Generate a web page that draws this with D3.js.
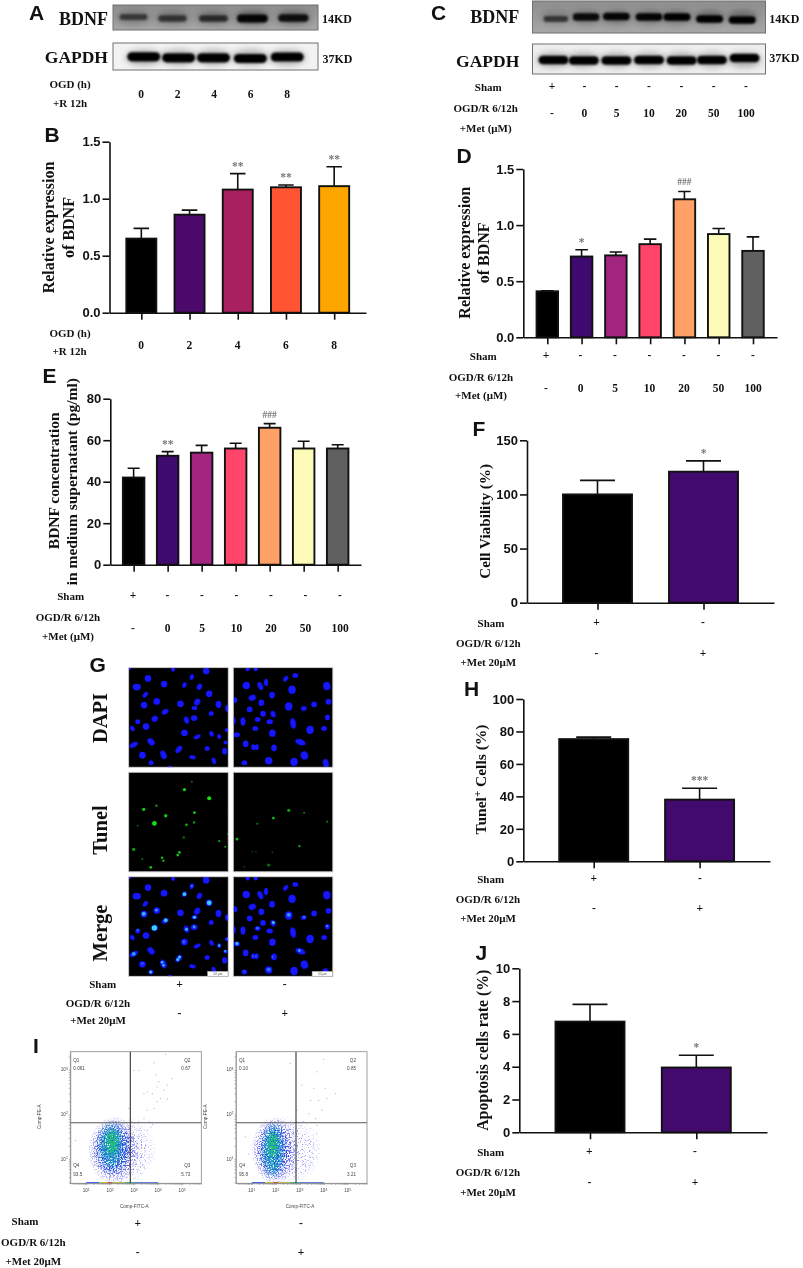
<!DOCTYPE html>
<html>
<head>
<meta charset="utf-8">
<script src="https://cdn.jsdelivr.net/npm/d3@7/dist/d3.min.js"></script>
<style>
body { margin: 0; background: #fff; }
svg { display: block; filter: blur(0.25px); }
text { fill: #111; }
.serif { font-family: "Liberation Serif", serif; font-weight: bold; }
.sans { font-family: "Liberation Sans", Arial, sans-serif; font-weight: bold; }
</style>
</head>
<body>
<div id="fig"></div>
<script>
// bar values
const ogdGroups = ["0", "2", "4", "6", "8"];
const metGroups = ["-", "0", "5", "10", "20", "50", "100"];

const valuesB = [0.65, 0.86, 1.08, 1.10, 1.11];
const errorsB = [0.74, 0.90, 1.22, 1.12, 1.28];
const marksB = ["", "", "**", "**", "**"];
const colorsB = ["#000000", "#4b0a6b", "#a8205f", "#ff5533", "#ffa500"];

const valuesD = [0.41, 0.72, 0.73, 0.83, 1.23, 0.92, 0.77];
const errorsD = [0.415, 0.78, 0.76, 0.875, 1.30, 0.97, 0.895];
const marksD = ["", "*", "", "", "###", "", ""];
const valuesE = [42, 52.5, 54, 56, 66, 56, 56];
const errorsE = [46.5, 54.5, 57.5, 58.5, 68, 59.5, 57.8];
const marksE = ["", "**", "", "", "###", "", ""];
const colorsMet = ["#000000", "#3f0a70", "#a2257f", "#ff4569", "#ffa066", "#fcfcb8", "#606060"];

const valuesF = [100, 121];
const errorsF = [113, 131];
const marksF = ["", "*"];
const valuesH = [75.3, 38];
const errorsH = [76.5, 45];
const marksH = ["", "***"];
const valuesJ = [6.75, 3.95];
const errorsJ = [7.8, 4.7];
const marksJ = ["", "*"];
const colorsPair = ["#000000", "#430a6e"];

const ticksOne = [0, 0.5, 1, 1.5];
const ticksE = [0, 20, 40, 60, 80];
const ticksF = [0, 50, 100, 150];
const ticksH = [0, 20, 40, 60, 80, 100];
const ticksJ = [0, 2, 4, 6, 8, 10];

const shamRowMet = ["+", "-", "-", "-", "-", "-", "-"];
const shamRowPair = ["+", "-"];
const metRowPair = ["-", "+"];

// western blot band strength per lane, and lane centres in box units (0-100)
const blotALanes = [10, 29, 49, 68, 88];
const blotABdnf = [0.5, 0.55, 0.62, 0.95, 0.85];
const blotAGapdhLanes = [15, 32, 49, 67, 85];
const blotAGapdh = [1, 1, 1, 1, 1];
const blotCLanes = [10, 23, 36, 50, 62, 76, 90];
const blotCBdnf = [0.55, 0.9, 0.95, 0.95, 1, 1, 1];
const blotCGapdhLanes = [9, 22, 36, 50, 64, 77, 91];
const blotCGapdh = [1, 1, 1, 1, 1, 1, 1];

// nuclei in the micrographs, field units 0-298: x, y, optional rx, ry, angle
const dapiLeft = [[58,32],[24,58,10,8,0],[106,49],[189,28,5,7,20],[232,10],[167,52,5,7,20],[212,57,6,8,30],[50,81,5,8,40],[241,78],[84,101],[46,112],[155,108],[205,103,7,9,30],[269,110,7,9,0],[197,121,7,5,0],[109,132,9,6,-30],[295,122,5,8,0],[247,137,6,6,0],[78,153,8,7,-30],[27,162,6,6,0],[173,157,6,9,-20],[196,151,8,7,0],[52,176],[11,182,5,7,-30],[167,195,8,8,0],[205,207,9,5,-25],[248,198,5,7,-30],[271,206,5,6,0],[294,187,5,5,0],[15,231,11,6,-30],[67,222,10,7,45],[290,224,5,5,0],[150,245,6,10,40],[235,242,6,6,0],[287,250,6,8,0],[41,262,8,8,0],[104,261,7,11,-25],[191,268,8,5,10],[67,285,6,6,0],[255,279,5,8,-20],[133,6,5,5,0],[124,298,5,4,0],[3,3,3,3,0]];
const dapiRight = [[43,5,5,5,0],[67,5,5,5,0],[157,33,5,8,40],[186,23,7,6,0],[39,53,9,9,0],[81,55,6,10,-25],[98,44,5,9,0],[280,55,9,10,-10],[176,66,9,10,0],[57,90,9,7,-20],[116,82,7,8,0],[6,97,5,7,0],[285,102,7,7,0],[84,105,7,8,0],[242,110,7,7,0],[166,116,9,10,0],[211,122,7,6,-10],[49,125,7,7,0],[89,138,7,7,0],[119,139,6,8,-20],[73,155,7,6,0],[282,149,6,7,0],[29,161,6,10,0],[109,162,8,6,0],[2,159,4,9,0],[179,167,7,13,-10],[230,186,9,10,0],[272,182,7,6,0],[66,182,7,6,0],[117,196,8,9,0],[10,201,8,6,0],[201,223,13,7,20],[37,228,7,8,0],[60,238,5,7,0],[70,238,5,7,0],[122,240,7,8,0],[213,263,9,10,-20],[106,279,9,9,0],[182,282,9,10,0],[277,286,7,10,-15],[33,285,7,6,0]];
// TUNEL spots: x, y, strength, radius
const tunelLeft = [[189,28,0.5,3],[167,52,0.9,5],[241,78,1,6],[45,111,0.9,5],[83,100,0.7,3.5],[197,121,0.9,4],[111,130,0.9,5],[77,153,1,7],[173,157,0.8,4],[196,150,0.7,3.5],[27,160,0.4,3],[165,195,0.4,4],[271,206,0.7,3.5],[289,223,0.7,3],[15,231,0.7,5],[152,240,0.9,4],[147,248,0.9,4],[41,260,0.5,3],[100,256,0.9,3.5],[104,265,0.8,3.5],[66,285,0.9,4],[299,121,0.6,3],[297,185,0.5,3]];
const tunelRight = [[166,114,0.7,5],[212,121,0.6,3],[120,137,0.9,4],[72,154,0.6,3],[281,148,0.6,3],[11,200,0.8,4.5],[198,221,0.8,3.5],[58,238,0.35,2.5],[68,238,0.35,2.5],[117,240,0.4,2.5],[106,278,0.5,5],[33,283,0.3,3]];

// flow cytometry: log10 of FITC and PE for the sparse events outside the main cloud
const flowSparseLeft = [[2.97,3],[3.18,3],[3.53,2.52],[3.88,2.9],[4.01,2.75],[4.57,2.82],[4.36,2.67],[3.94,2.63],[4.22,2.56],[3.39,2.48],[3.74,2.48],[4.08,2.37],[3.94,2.3],[4.36,2.36],[3.81,2.15],[3.53,2.11],[3.39,1.92],[3.18,1.85],[2.76,2.15],[4.29,3.36],[3.81,3.17],[3.6,1.85],[3.74,1.79],[3.25,1.43],[3.39,1.51],[3.11,1.28],[3.32,1.13],[3.53,1.66],[3.18,1.66],[3.04,0.99],[3.39,0.84],[3.25,0.69],[3.67,1.73],[3.11,1.51],[3.46,1.32],[0.54,1.43]];
const flowSparseRight = [[3.97,3.25],[3.69,2.97],[4.04,2.6],[4.46,2.48],[3.42,2.33],[3.76,2.33],[4.11,2.37],[3.9,2.11],[3.63,1.92],[3.35,2.03],[2.86,2.11],[2.58,3.16],[3.07,2.67],[3.56,2.6],[3.69,1.77],[3.14,1.85],[3.28,1.43],[3.56,1.28],[3.07,1.51],[3.42,1.06],[3,1.21],[3.69,1.58],[3.21,0.76],[0.71,1.51],[0.85,1.13]];
// density layers of the main cloud: log x, log y, radius x, radius y, colour
const flowCloudLeft = [[2.6,1.2,1.3,0.75,"#8a8aff"],[2.15,1.2,1.05,0.74,"#3030e0"],[2.1,1.25,0.75,0.62,"#1070d0"],[2.05,1.3,0.5,0.5,"#10a8b8"],[2.07,1.38,0.28,0.3,"#22c070"]];
const flowCloudRight = [[2.5,1.2,1.4,0.75,"#8a8aff"],[1.95,1.2,0.95,0.74,"#3030e0"],[1.9,1.2,0.62,0.66,"#1070d0"],[1.88,1.2,0.42,0.58,"#10a8b8"],[1.88,1.33,0.24,0.32,"#22c070"]];
const flowStrip = [[1,1.55,"#3050ff"],[1.55,1.9,"#c0c020"],[1.9,2.1,"#e03020"],[2.1,2.6,"#b0c030"],[2.6,3,"#30b080"],[3,4,"#5070e0"]];
const flowQuadLeft = ["0.061", "0.67", "5.73", "93.5"];
const flowQuadRight = ["0.10", "0.85", "3.21", "95.8"];
const flowDecades = [1, 2, 3, 4, 5];
const flowDecadesY = [1, 2, 3];

var svg = d3.select("#fig").append("svg").attr("width", 803).attr("height", 1268);
var defs = svg.append("defs");

function addBlur(id, dev) {
    defs.append("filter").attr("id", id)
        .attr("x", "-50%").attr("y", "-80%").attr("width", "200%").attr("height", "260%")
        .append("feGaussianBlur").attr("stdDeviation", dev);
}
addBlur("blur04", 0.45);
addBlur("blur1", 1.1);
addBlur("blur3", 3);

// grainy texture so the flow cloud looks like single events
function addSpeck(id, cut, seed) {
    var speck = defs.append("filter").attr("id", id)
        .attr("x", "-10%").attr("y", "-10%").attr("width", "120%").attr("height", "120%");
    speck.append("feTurbulence").attr("type", "fractalNoise").attr("baseFrequency", 0.75)
        .attr("numOctaves", 1).attr("seed", seed).attr("result", "n");
    speck.append("feColorMatrix").attr("in", "n").attr("type", "matrix")
        .attr("values", "0 0 0 0 0  0 0 0 0 0  0 0 0 0 0  9 0 0 0 " + (-9 * cut)).attr("result", "t");
    speck.append("feComposite").attr("in", "SourceGraphic").attr("in2", "t").attr("operator", "in").attr("result", "c");
    speck.append("feGaussianBlur").attr("in", "c").attr("stdDeviation", 0.35);
}
addSpeck("speck0", 0.56, 4);
addSpeck("speck1", 0.49, 9);
addSpeck("speck2", 0.46, 15);
addSpeck("speck3", 0.44, 21);
addSpeck("speck4", 0.40, 27);

function addFade(id, color) {
    var g = defs.append("radialGradient").attr("id", id);
    g.append("stop").attr("offset", "0%").attr("stop-color", color).attr("stop-opacity", 1);
    g.append("stop").attr("offset", "60%").attr("stop-color", color).attr("stop-opacity", 0.9);
    g.append("stop").attr("offset", "100%").attr("stop-color", color).attr("stop-opacity", 0.1);
}

var blotBg = defs.append("linearGradient").attr("id", "blotBg").attr("x2", 0).attr("y2", 1);
blotBg.append("stop").attr("offset", "0%").attr("stop-color", "#8e8e8e");
blotBg.append("stop").attr("offset", "100%").attr("stop-color", "#a6a6a6");

function label(x, y, str, size, cls, anchor) {
    return svg.append("text").attr("class", cls || "serif")
        .attr("x", x).attr("y", y)
        .attr("font-size", size || 11)
        .attr("text-anchor", anchor || "middle")
        .text(str);
}

function vlabel(x, y, str, size) {
    return svg.append("text").attr("class", "serif")
        .attr("transform", "translate(" + x + "," + y + ") rotate(-90)")
        .attr("font-size", size)
        .attr("text-anchor", "middle")
        .text(str);
}

function row(scale, items, y) {
    items.forEach(function (d, i) {
        label(scale(i), y, d, 11.5);
    });
}

function barChart(p) {
    var x = d3.scalePoint().domain(d3.range(p.values.length)).range([p.left, p.right]).padding(p.pad);
    var y = d3.scaleLinear().domain([0, p.max]).range([p.bottom, p.top]);
    var g = svg.append("g");

    g.selectAll(".err").data(p.errors).enter().append("path")
        .attr("fill", "none").attr("stroke", "#111").attr("stroke-width", 1.6)
        .attr("d", function (d, i) {
            var cx = x(i);
            return "M" + cx + "," + y(p.values[i]) + "V" + y(d) + "M" + (cx - p.cap / 2) + "," + y(d) + "H" + (cx + p.cap / 2);
        });

    g.selectAll(".bar").data(p.values).enter().append("rect")
        .attr("x", function (d, i) { return x(i) - p.barWidth / 2; })
        .attr("y", function (d) { return y(d); })
        .attr("width", p.barWidth)
        .attr("height", function (d) { return p.bottom - y(d); })
        .attr("fill", function (d, i) { return p.colors[i]; })
        .attr("stroke", "#111").attr("stroke-width", 1.9);

    g.selectAll(".sig").data(p.marks).enter().append("text")
        .attr("class", "serif")
        .attr("x", function (d, i) { return x(i); })
        .attr("y", function (d, i) { return y(p.errors[i]) - (d.charAt(0) == "#" ? 6 : 4); })
        .attr("font-size", function (d) { return d.charAt(0) == "#" ? 9.5 : 11.5; })
        .attr("text-anchor", "middle")
        .style("fill", "#777")
        .text(function (d) { return d; });

    var ax = g.append("g").attr("transform", "translate(0," + p.bottom + ")")
        .call(d3.axisBottom(x).tickSize(7).tickSizeOuter(0).tickFormat(""));
    var ay = g.append("g").attr("transform", "translate(" + p.left + ",0)")
        .call(d3.axisLeft(y).tickValues(p.ticks).tickSize(7).tickSizeOuter(0).tickPadding(2)
            .tickFormat(p.format || d3.format("d")));
    [ax, ay].forEach(function (a) {
        a.selectAll("path,line").attr("stroke", "#111").attr("stroke-width", 1.6);
    });
    ay.selectAll("text").attr("class", "sans").attr("font-size", 13).style("fill", "#111");
}

function blot(box, lanes, strength, opt) {
    var x = d3.scaleLinear().domain([0, 100]).range([box.x, box.x + box.w]);
    var clip = "c" + box.x + "_" + box.y;
    defs.append("clipPath").attr("id", clip).append("rect")
        .attr("x", box.x).attr("y", box.y).attr("width", box.w).attr("height", box.h);
    var g = svg.append("g").attr("clip-path", "url(#" + clip + ")");
    g.append("rect").attr("x", box.x).attr("y", box.y).attr("width", box.w).attr("height", box.h)
        .attr("fill", opt.bg);
    g.selectAll(".halo").data(strength).enter().append("ellipse")
        .attr("cx", function (d, i) { return x(lanes[i]); })
        .attr("cy", box.y + opt.cy)
        .attr("rx", opt.rx * 1.1)
        .attr("ry", opt.ry * 1.7)
        .attr("fill", "#333")
        .attr("opacity", function (d) { return d * opt.halo; })
        .attr("filter", "url(#blur3)");
    // bands are rounded bars, they get a soft edge from the blur
    var halfW = function (d) { return opt.rx * (0.8 + 0.2 * d); };
    var halfH = function (d) { return opt.ry * (0.55 + 0.45 * d); };
    g.selectAll(".band").data(strength).enter().append("rect")
        .attr("x", function (d, i) { return x(lanes[i]) - halfW(d); })
        .attr("y", function (d, i) { return box.y + opt.cy + (opt.shift ? opt.shift[i] : 0) - halfH(d); })
        .attr("width", function (d) { return 2 * halfW(d); })
        .attr("height", function (d) { return 2 * halfH(d); })
        .attr("rx", function (d) { return halfH(d); })
        .attr("ry", function (d) { return halfH(d); })
        .attr("fill", "#050505")
        .attr("opacity", function (d) { return 0.1 + 0.9 * d; })
        .attr("filter", "url(#blur1)");
    svg.append("rect").attr("x", box.x).attr("y", box.y).attr("width", box.w).attr("height", box.h)
        .attr("fill", "none").attr("stroke", "#707070").attr("stroke-width", 1);
}

function micrograph(px, py, dapi, tunel, mode) {
    var size = 99.5;
    var s = d3.scaleLinear().domain([0, 298]).range([0, size]);
    var clip = "m" + Math.round(px) + "_" + Math.round(py);
    defs.append("clipPath").attr("id", clip).append("rect").attr("width", size).attr("height", size);
    var frame = svg.append("g").attr("transform", "translate(" + px + "," + py + ")");
    var g = frame.append("g").attr("clip-path", "url(#" + clip + ")");
    g.append("rect").attr("width", size).attr("height", size).attr("fill", "#000");
    if (mode != "tunel") {
        g.selectAll(".cell").data(dapi).enter().append("ellipse")
            .attr("transform", function (d) {
                return "translate(" + s(d[0]) + "," + s(d[1]) + ") rotate(" + (d[4] || 0) + ")";
            })
            .attr("rx", function (d) { return s(d[2] || 8) * 1.25; })
            .attr("ry", function (d) { return s(d[3] || 8) * 1.25; })
            .attr("fill", "#1212ff")
            .attr("filter", "url(#blur04)");
    }
    if (mode != "dapi") {
        g.selectAll(".spot").data(tunel).enter().append("circle")
            .attr("cx", function (d) { return s(d[0]); })
            .attr("cy", function (d) { return s(d[1]); })
            .attr("r", function (d) { return s(d[3]) * (mode == "merge" ? 1.15 : 1); })
            .attr("fill", mode == "merge" ? "#35d2ff" : "#14e014")
            .attr("opacity", function (d) { return d[2]; })
            .attr("filter", "url(#blur04)");
    }
    if (mode == "merge") {
        frame.append("rect").attr("x", s(236)).attr("y", s(283)).attr("width", s(62)).attr("height", s(15))
            .attr("fill", "#fff").attr("stroke", "#999").attr("stroke-width", 0.5);
        frame.append("text").attr("x", s(267)).attr("y", s(295)).attr("text-anchor", "middle")
            .attr("font-size", 3.2).attr("font-family", "Liberation Sans").style("fill", "#555").text("50 μm");
    }
    frame.append("rect").attr("width", size).attr("height", size)
        .attr("fill", "none").attr("stroke", "#b5b5b5").attr("stroke-width", 0.8);
}

function flowPlot(p) {
    var x = d3.scaleLog().domain([Math.pow(10, 0.34), Math.pow(10, 5.8)]).range([p.x, p.x + 131]);
    var y = d3.scaleLog().domain([Math.pow(10, 0.46), Math.pow(10, 3.41)]).range([p.y + 131.6, p.y]);
    var lx = function (v) { return x(Math.pow(10, v)); };
    var ly = function (v) { return y(Math.pow(10, v)); };
    var bottom = p.y + 131.6;
    var g = svg.append("g");

    var clip = "f" + p.x;
    defs.append("clipPath").attr("id", clip).append("rect")
        .attr("x", p.x).attr("y", p.y).attr("width", 131).attr("height", 131.6);
    var plot = g.append("g").attr("clip-path", "url(#" + clip + ")");

    p.cloud.forEach(function (c, i) {
        var id = "fade" + p.x + "_" + i;
        addFade(id, c[4]);
        plot.append("ellipse")
            .attr("cx", lx(c[0])).attr("cy", ly(c[1]))
            .attr("rx", lx(c[0] + c[2]) - lx(c[0]))
            .attr("ry", ly(c[1]) - ly(c[1] + c[3]))
            .attr("fill", "url(#" + id + ")")
            .attr("filter", "url(#speck" + i + ")");
    });

    plot.selectAll(".ev").data(p.sparse).enter().append("rect")
        .attr("x", function (d) { return lx(d[0]); })
        .attr("y", function (d) { return ly(d[1]); })
        .attr("width", 1).attr("height", 1)
        .attr("fill", "#8a8ae8").attr("opacity", 0.75);

    plot.selectAll(".strip").data(flowStrip).enter().append("rect")
        .attr("x", function (d) { return lx(d[0]); })
        .attr("width", function (d) { return lx(d[1]) - lx(d[0]); })
        .attr("y", bottom - 1.2).attr("height", 1.2)
        .attr("fill", function (d) { return d[2]; });

    // quadrant gates
    g.append("line").attr("x1", p.x).attr("x2", p.x + 131).attr("y1", p.y + 71).attr("y2", p.y + 71)
        .attr("stroke", "#555").attr("stroke-width", 1.1);
    g.append("line").attr("x1", p.x + 60).attr("x2", p.x + 60).attr("y1", p.y).attr("y2", bottom)
        .attr("stroke", "#333").attr("stroke-width", 1.1);
    g.append("rect").attr("x", p.x).attr("y", p.y).attr("width", 131).attr("height", 131.6)
        .attr("fill", "none").attr("stroke", "#888").attr("stroke-width", 0.8);

    var ax = g.append("g").attr("transform", "translate(0," + bottom + ")")
        .call(d3.axisBottom(x).tickSize(1.6).tickSizeOuter(0).tickFormat(""));
    var ay = g.append("g").attr("transform", "translate(" + p.x + ",0)")
        .call(d3.axisLeft(y).tickSize(1.6).tickSizeOuter(0).tickFormat(""));
    [ax, ay].forEach(function (a) {
        a.selectAll("path,line").attr("stroke", "#777").attr("stroke-width", 0.5);
    });

    function small(tx, ty, s, anchor) {
        return g.append("text").attr("x", tx).attr("y", ty).attr("font-size", 4.6)
            .attr("font-family", "Liberation Sans").attr("text-anchor", anchor || "middle")
            .style("fill", "#444").text(s);
    }
    function decade(tx, ty, n, anchor) {
        var t = small(tx, ty, "10", anchor);
        t.append("tspan").attr("dy", -1.8).attr("font-size", 3.4).text(n);
    }
    flowDecades.forEach(function (n) { decade(lx(n), bottom + 9, n); });
    flowDecadesY.forEach(function (n) { decade(p.x - 2.5, ly(n) + 1.5, n, "end"); });

    small(p.x + 64, bottom + 25, "Comp-FITC-A");
    g.append("text").attr("transform", "translate(" + (p.x - 29) + "," + (p.y + 65) + ") rotate(-90)")
        .attr("font-size", 4.6).attr("font-family", "Liberation Sans").attr("text-anchor", "middle")
        .style("fill", "#444").text("Comp-PE-A");

    small(p.x + 3, p.y + 10, "Q1", "start");
    small(p.x + 3, p.y + 18.5, p.quad[0], "start");
    small(p.x + 120, p.y + 10, "Q2", "end");
    small(p.x + 120, p.y + 18.5, p.quad[1], "end");
    small(p.x + 120, p.y + 115.5, "Q3", "end");
    small(p.x + 120, p.y + 124, p.quad[2], "end");
    small(p.x + 3, p.y + 115.5, "Q4", "start");
    small(p.x + 3, p.y + 124, p.quad[3], "start");
}

// ---- panel letters
[["A", 29, 20], ["B", 44.5, 142], ["C", 431, 20], ["D", 456.5, 163], ["E", 42.5, 382.7], ["F", 472.5, 436],
 ["G", 89.5, 671.7], ["H", 464, 696], ["I", 33, 1052.7], ["J", 475.5, 960]].forEach(function (d) {
    label(d[1], d[2], d[0], 21, "sans", "start");
});

// ---- panel A
blot({ x: 113, y: 5, w: 205, h: 25 }, blotALanes, blotABdnf,
    { bg: "url(#blotBg)", cy: 12.5, rx: 15.5, ry: 4, halo: 0.6, shift: [-0.5, 1, 1, 1, 0.5] });
blot({ x: 113, y: 43, w: 205, h: 27 }, blotAGapdhLanes, blotAGapdh,
    { bg: "#f2f2f2", cy: 14.5, rx: 16.5, ry: 4.6, halo: 0.35, shift: [-0.7, 0.3, 0.3, 1, -0.5] });
label(108, 25.3, "BDNF", 18, "serif", "end");
label(108, 63.3, "GAPDH", 17.5, "serif", "end");
label(322, 22.7, "14KD", 12, "serif", "start");
label(322.5, 62.7, "37KD", 12, "serif", "start");
label(70, 87.7, "OGD (h)");
label(70, 106.7, "+R 12h");
row(d3.scalePoint().domain(d3.range(5)).range([141, 287]), ogdGroups, 97.7);

// ---- panel B
barChart({ values: valuesB, errors: errorsB, marks: marksB, colors: colorsB, ticks: ticksOne, max: 1.5,
    left: 109.5, right: 366, pad: 0.66, top: 141.7, bottom: 312.7, barWidth: 30, cap: 15.5, format: d3.format(".1f") });
vlabel(54.3, 227.5, "Relative expression", 16);
vlabel(74, 227.5, "of BDNF", 16);
label(70, 337, "OGD (h)");
label(69.5, 355, "+R 12h");
row(d3.scalePoint().domain(d3.range(5)).range([141, 334]), ogdGroups, 349);

// ---- panel C
blot({ x: 532.5, y: 1, w: 233, h: 32 }, blotCLanes, blotCBdnf,
    { bg: "url(#blotBg)", cy: 16, rx: 13.5, ry: 3.8, halo: 0.45, shift: [2, 0, -0.5, 0, 0, 2, 3] });
blot({ x: 532.5, y: 44, w: 233, h: 30 }, blotCGapdhLanes, blotCGapdh,
    { bg: "#eeeeee", cy: 16, rx: 15, ry: 4.3, halo: 0.35, shift: [0, 0.5, 0.5, 0, 0.5, 0, -2] });
label(519.3, 23.3, "BDNF", 18, "serif", "end");
label(519.3, 66.7, "GAPDH", 17.5, "serif", "end");
label(769.3, 22.7, "14KD", 12, "serif", "start");
label(769.3, 62.3, "37KD", 12, "serif", "start");
label(488.3, 91, "Sham");
label(485.7, 112.3, "OGD/R 6/12h");
label(485.7, 131.7, "+Met (μM)");
var rowC = d3.scalePoint().domain(d3.range(7)).range([552, 746]);
row(rowC, shamRowMet, 90);
row(rowC, metGroups, 117.3);

// ---- panel D
barChart({ values: valuesD, errors: errorsD, marks: marksD, colors: colorsMet, ticks: ticksOne, max: 1.5,
    left: 523.3, right: 777, pad: 0.7, top: 169, bottom: 337.3, barWidth: 21.5, cap: 12.5, format: d3.format(".1f") });
vlabel(470.3, 252.8, "Relative expression", 16);
vlabel(489.3, 252.8, "of BDNF", 16);
label(483.3, 360, "Sham");
label(481, 381, "OGD/R 6/12h");
label(481, 399, "+Met (μM)");
var rowD = d3.scalePoint().domain(d3.range(7)).range([546, 753]);
row(rowD, shamRowMet, 359);
row(rowD, metGroups, 391.7);

// ---- panel E
barChart({ values: valuesE, errors: errorsE, marks: marksE, colors: colorsMet, ticks: ticksE, max: 80,
    left: 110.3, right: 361, pad: 0.686, top: 398.7, bottom: 564.7, barWidth: 21.5, cap: 12 });
vlabel(59, 480.8, "BDNF concentration", 15.5);
vlabel(76.7, 481.7, "in medium supernatant (pg/ml)", 15.5);
label(70.7, 600, "Sham");
label(68, 621, "OGD/R 6/12h");
label(68, 640, "+Met (μM)");
var rowE = d3.scalePoint().domain(d3.range(7)).range([133, 340]);
row(rowE, shamRowMet, 599);
row(rowE, metGroups, 631.7);

// ---- panels F, H, J
function pairLabels(shamY, ogdY, metY, rowA, rowB, x1, x2, lx) {
    label(lx + 2.7, shamY, "Sham");
    label(lx, ogdY, "OGD/R 6/12h");
    label(lx, metY, "+Met 20μM");
    var sc = d3.scalePoint().domain(d3.range(2)).range([x1, x2]);
    row(sc, shamRowPair, rowA);
    row(sc, metRowPair, rowB);
}

barChart({ values: valuesF, errors: errorsF, marks: marksF, colors: colorsPair, ticks: ticksF, max: 150,
    left: 527, right: 774, pad: 0.665, top: 440.3, bottom: 602.7, barWidth: 69, cap: 35 });
vlabel(490, 521.3, "Cell Viability (%)", 15.2);
pairLabels(626.7, 646.7, 666, 625.7, 656.7, 596.5, 703, 488.3);

barChart({ values: valuesH, errors: errorsH, marks: marksH, colors: colorsPair, ticks: ticksH, max: 100,
    left: 523.3, right: 770, pad: 0.665, top: 699, bottom: 861.3, barWidth: 69, cap: 35 });
var tunelTitle = vlabel(485.7, 779.5, "Tunel", 15.5);
tunelTitle.append("tspan").attr("dy", -5).attr("font-size", 11).text("+");
tunelTitle.append("tspan").attr("dy", 5).text(" Cells (%)");
pairLabels(882.7, 902.7, 921.7, 882, 912.3, 593.8, 699.8, 488);

barChart({ values: valuesJ, errors: errorsJ, marks: marksJ, colors: colorsPair, ticks: ticksJ, max: 10,
    left: 519.3, right: 767, pad: 0.665, top: 968.3, bottom: 1132.3, barWidth: 69, cap: 35 });
vlabel(488, 1050.3, "Apoptosis cells rate (%)", 15.8);
pairLabels(1156, 1176, 1195.7, 1155, 1186, 589.3, 695, 488);

// ---- panel G
micrograph(128.7, 667.7, dapiLeft, tunelLeft, "dapi");
micrograph(233.3, 667.7, dapiRight, tunelRight, "dapi");
micrograph(128.7, 772.3, dapiLeft, tunelLeft, "tunel");
micrograph(233.3, 772.3, dapiRight, tunelRight, "tunel");
micrograph(128.7, 876.8, dapiLeft, tunelLeft, "merge");
micrograph(233.3, 876.8, dapiRight, tunelRight, "merge");
vlabel(106.5, 718, "DAPI", 20.5);
vlabel(106.5, 830, "Tunel", 20.5);
vlabel(106.5, 933, "Merge", 20.5);
label(102.7, 987.7, "Sham");
label(98, 1006.7, "OGD/R 6/12h");
label(98, 1024, "+Met 20μM");
var rowG = d3.scalePoint().domain(d3.range(2)).range([179.5, 284.7]);
row(rowG, shamRowPair, 987.7);
row(rowG, metRowPair, 1016.7);

// ---- panel I
flowPlot({ x: 70.3, y: 1051.7, cloud: flowCloudLeft, sparse: flowSparseLeft, quad: flowQuadLeft });
flowPlot({ x: 236, y: 1051.7, cloud: flowCloudRight, sparse: flowSparseRight, quad: flowQuadRight });
label(25, 1225, "Sham");
label(33.3, 1246, "OGD/R 6/12h");
label(33.3, 1265, "+Met 20μM");
var rowI = d3.scalePoint().domain(d3.range(2)).range([137.7, 301]);
row(rowI, shamRowPair, 1226.7);
row(rowI, metRowPair, 1256);
</script>
</body>
</html>
